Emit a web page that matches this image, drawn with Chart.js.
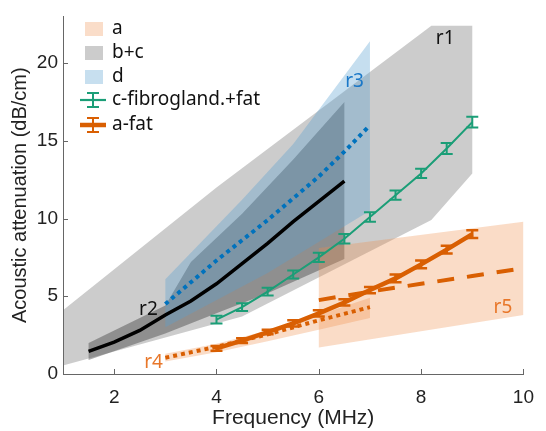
<!DOCTYPE html>
<html>
<head>
<meta charset="utf-8">
<script src="https://cdn.jsdelivr.net/npm/chart.js@4.4.0/dist/chart.umd.min.js"></script>
<style>
html, body { margin: 0; padding: 0; background: #fff; }
</style>
</head>
<body>
<canvas id="chart" width="546" height="431"></canvas>
<script>
// measured points (frequency in MHz, attenuation in dB/cm)
var freq = [4, 4.5, 5, 5.5, 6, 6.5, 7, 7.5, 8, 8.5, 9];
var fibroFat = [3.5, 4.3, 5.3, 6.4, 7.5, 8.7, 10.1, 11.5, 12.9, 14.5, 16.2];
var fibroFatErr = [0.25, 0.25, 0.25, 0.25, 0.3, 0.3, 0.3, 0.3, 0.3, 0.35, 0.35];
var fat = [1.65, 2.15, 2.7, 3.25, 3.9, 4.6, 5.4, 6.15, 7.05, 8.0, 9.0];
var fatErr = [0.15, 0.15, 0.15, 0.2, 0.2, 0.2, 0.2, 0.25, 0.25, 0.25, 0.25];

// reference curves
var r2Freq = [1.5, 2, 2.5, 3, 3.5, 4, 4.5, 5, 5.5, 6, 6.5];
var r2Att = [1.45, 2.05, 2.8, 3.8, 4.7, 5.8, 7.1, 8.4, 9.8, 11.1, 12.4];
var r3Freq = [3, 3.5, 4, 4.5, 5, 5.5, 6, 6.5, 7];
var r3Att = [4.5, 5.9, 7.3, 8.6, 9.9, 11.3, 12.7, 14.3, 16.0];
var r4Freq = [3, 4, 5, 6, 7];
var r4Att = [1.05, 1.75, 2.55, 3.45, 4.3];
var r5Freq = [6, 7, 8, 9, 10];
var r5Att = [4.75, 5.3, 5.8, 6.3, 6.8];

// shaded ranges, [freq, att] along the upper and lower edge
var r1Upper = [[1, 4.1], [4, 12.0], [8.2, 22.4], [9, 22.4]];
var r1Lower = [[1, 0.55], [4.5, 3.7], [8.2, 9.9], [9, 12.9]];
var r2Upper = [[1.5, 2.0], [3, 4.4], [3.5, 7.2], [4.5, 10.3], [5.5, 13.8], [6.5, 17.5]];
var r2Lower = [[1.5, 0.9], [3, 2.6], [4, 3.9], [5, 5.2], [6.5, 7.4]];
var r3Upper = [[3, 6.1], [4.5, 11.2], [5.5, 14.8], [7, 21.4]];
var r3Lower = [[3, 3.0], [5, 6.5], [7, 10.5]];
var r4Upper = [[3, 1.3], [4, 1.95], [5, 2.8], [6, 3.8], [7, 4.9]];
var r4Lower = [[3, 0.8], [4, 1.4], [5, 2.1], [6, 2.85], [7, 3.6]];
var r5Upper = [[6, 8.1], [10, 9.8]];
var r5Lower = [[6, 1.7], [10, 3.8]];

var xTicks = [2, 4, 6, 8, 10];
var yTicks = [0, 5, 10, 15, 20];

var green = "#1b9e77";
var orange = "#d95f02";
var blue = "#0072bd";
var grayFill = "rgba(110,110,110,0.35)";
var darkFill = "rgba(70,70,70,0.45)";
var blueFill = "rgba(90,160,210,0.35)";
var orangeFill = "rgba(237,140,70,0.3)";

// region names, anchored in data units
var notes = [
    { text: "r1", x: 8.47, y: 21.6, color: "#111" },
    { text: "r2", x: 2.67, y: 4.15, color: "#111" },
    { text: "r3", x: 6.7, y: 18.8, color: "#1a78c8" },
    { text: "r4", x: 2.77, y: 0.76, color: "#e8772a" },
    { text: "r5", x: 9.6, y: 4.3, color: "#e8772a" }
];

function toPoints(xs, ys) {
    return xs.map(function (v, i) { return { x: v, y: ys[i] }; });
}

function polygon(upper, lower) {
    var pts = upper.map(function (p) { return { x: p[0], y: p[1] }; });
    lower.slice().reverse().forEach(function (p) { pts.push({ x: p[0], y: p[1] }); });
    return pts;
}

function area(pts, color, order) {
    return {
        data: pts, fill: "shape", backgroundColor: color, borderWidth: 0,
        pointRadius: 0, order: order
    };
}

function curve(pts, color, width, dash, order) {
    return {
        data: pts, fill: false, borderColor: color, borderWidth: width, borderDash: dash,
        pointRadius: 0, tension: 0, order: order, borderCapStyle: "butt"
    };
}

function drawErrors(ctx, xs, ys, xv, yv, ev, color, width) {
    ctx.save();
    ctx.strokeStyle = color;
    ctx.lineWidth = width;
    for (var i = 0; i < xv.length; i++) {
        var px = xs.getPixelForValue(xv[i]);
        var top = ys.getPixelForValue(yv[i] + ev[i]);
        var bot = ys.getPixelForValue(yv[i] - ev[i]);
        ctx.beginPath();
        ctx.moveTo(px, top); ctx.lineTo(px, bot);
        ctx.moveTo(px - 6, top); ctx.lineTo(px + 6, top);
        ctx.moveTo(px - 6, bot); ctx.lineTo(px + 6, bot);
        ctx.stroke();
    }
    ctx.restore();
}

var overlay = {
    id: "overlay",
    afterDatasetsDraw: function (chart) {
        var ctx = chart.ctx, xs = chart.scales.x, ys = chart.scales.y;
        drawErrors(ctx, xs, ys, freq, fibroFat, fibroFatErr, green, 2);
        drawErrors(ctx, xs, ys, freq, fat, fatErr, orange, 2.5);

        ctx.save();
        ctx.font = "19px 'Noto Sans'";
        ctx.textAlign = "center";
        ctx.textBaseline = "middle";
        notes.forEach(function (n) {
            ctx.fillStyle = n.color;
            ctx.fillText(n.text, xs.getPixelForValue(n.x), ys.getPixelForValue(n.y));
        });
        ctx.restore();
    },
    afterDraw: function (chart) {
        var ctx = chart.ctx, xs = chart.scales.x, ys = chart.scales.y;
        var a = chart.chartArea;
        // inward tick marks
        ctx.save();
        ctx.strokeStyle = "#666";
        ctx.lineWidth = 1;
        ctx.beginPath();
        xTicks.forEach(function (v) {
            var px = Math.round(xs.getPixelForValue(v)) + 0.5;
            ctx.moveTo(px, a.bottom); ctx.lineTo(px, a.bottom - 5);
        });
        yTicks.forEach(function (v) {
            var py = Math.round(ys.getPixelForValue(v)) + 0.5;
            ctx.moveTo(a.left, py); ctx.lineTo(a.left + 5, py);
        });
        ctx.stroke();

        // legend
        var rows = [29, 53, 77, 100, 125];
        var fills = ["rgb(250,221,201)", "rgb(204,204,204)", "rgb(199,223,239)"];
        fills.forEach(function (c, i) {
            ctx.fillStyle = c;
            ctx.fillRect(85, rows[i] - 7, 18, 14);
        });
        [[green, 2.2, 2], [orange, 4.5, 2]].forEach(function (s, i) {
            var y = rows[3 + i];
            ctx.strokeStyle = s[0];
            ctx.lineWidth = s[1];
            ctx.beginPath();
            ctx.moveTo(80, y); ctx.lineTo(106, y);
            ctx.stroke();
            ctx.lineWidth = s[2];
            ctx.beginPath();
            ctx.moveTo(93, y - 7); ctx.lineTo(93, y + 7);
            ctx.moveTo(87, y - 7); ctx.lineTo(99, y - 7);
            ctx.moveTo(87, y + 7); ctx.lineTo(99, y + 7);
            ctx.stroke();
        });
        ctx.fillStyle = "#111";
        ctx.font = "19px 'Noto Sans'";
        ctx.textAlign = "left";
        ctx.textBaseline = "middle";
        ["a", "b+c", "d", "c-fibrogland.+fat", "a-fat"].forEach(function (t, i) {
            ctx.fillText(t, 112, rows[i]);
        });
        ctx.restore();
    }
};

var datasets = [
    curve(toPoints(freq, fibroFat), green, 2, [], 1),
    curve(toPoints(freq, fat), orange, 4.5, [], 1),
    curve(toPoints(r2Freq, r2Att), "#000", 3.5, [], 2),
    curve(toPoints(r3Freq, r3Att), blue, 4, [4, 4], 2),
    curve(toPoints(r4Freq, r4Att), orange, 4, [4, 4], 2),
    curve(toPoints(r5Freq, r5Att), orange, 4, [17, 13], 2),
    area(polygon(r3Upper, r3Lower), blueFill, 5),
    area(polygon(r4Upper, r4Lower), orangeFill, 6),
    area(polygon(r5Upper, r5Lower), orangeFill, 6),
    area(polygon(r2Upper, r2Lower), darkFill, 7),
    area(polygon(r1Upper, r1Lower), grayFill, 8)
];

new Chart(document.getElementById("chart"), {
    type: "line",
    data: { datasets: datasets },
    options: {
        responsive: false,
        animation: false,
        events: [],
        layout: { padding: { left: 0, right: 13, top: 13, bottom: 0 } },
        plugins: { legend: { display: false }, tooltip: { enabled: false } },
        scales: {
            x: {
                type: "linear", min: 1, max: 10,
                afterBuildTicks: function (s) { s.ticks = xTicks.map(function (v) { return { value: v }; }); },
                afterFit: function (s) { s.height = 57; },
                grid: { display: false, drawTicks: false },
                border: { color: "#666", width: 1 },
                ticks: { padding: 12, color: "#222", font: { family: "'Liberation Sans'", size: 19 } },
                title: {
                    display: true, text: "Frequency (MHz)", color: "#222",
                    font: { family: "'Liberation Sans'", size: 21 }, padding: { top: 0, bottom: 0 }
                }
            },
            y: {
                min: 0, max: 23,
                afterBuildTicks: function (s) { s.ticks = yTicks.map(function (v) { return { value: v }; }); },
                afterFit: function (s) { s.width = 63; },
                grid: { display: false, drawTicks: false },
                border: { color: "#666", width: 1 },
                ticks: { padding: 5, color: "#222", font: { family: "'Liberation Sans'", size: 19 } },
                title: {
                    display: true, text: "Acoustic attenuation (dB/cm)", color: "#222",
                    font: { family: "'Liberation Sans'", size: 20 }, padding: { top: 8, bottom: 0 }
                }
            }
        }
    },
    plugins: [overlay]
});
</script>
</body>
</html>
